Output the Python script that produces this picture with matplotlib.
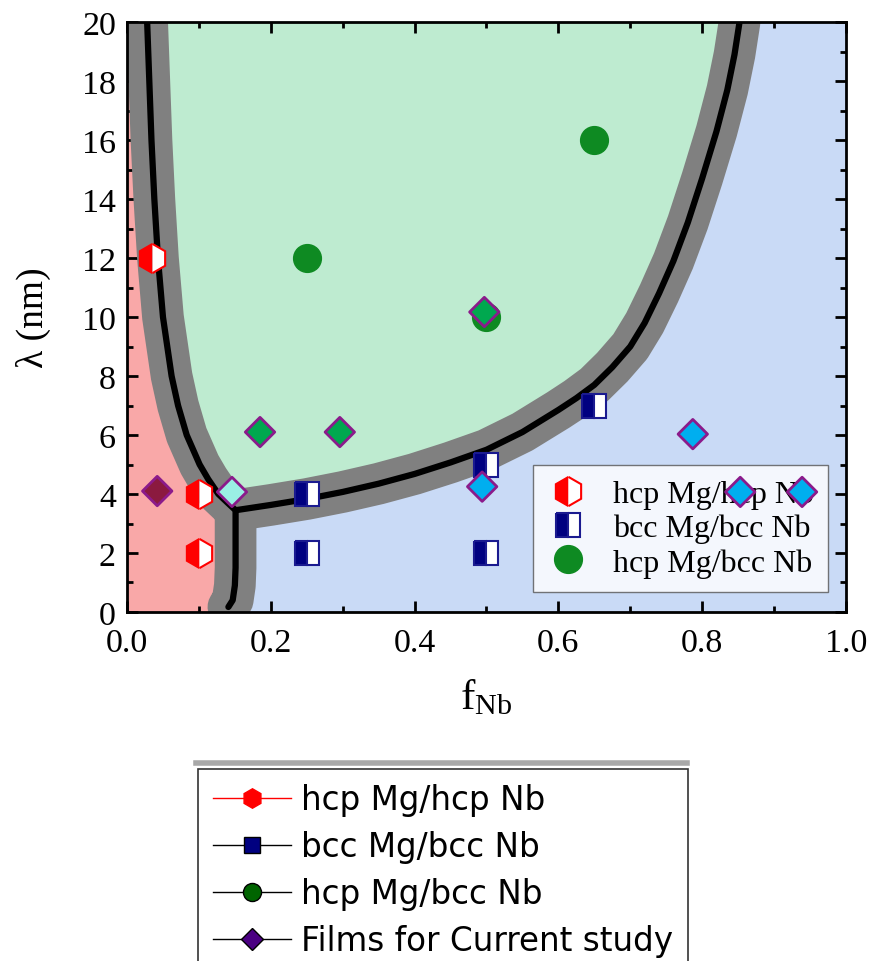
import numpy as np
import matplotlib.pyplot as plt
from matplotlib.lines import Line2D

plt.rcParams['font.family'] = 'Liberation Serif'
plt.rcParams['mathtext.fontset'] = 'custom'
plt.rcParams['mathtext.rm'] = 'Liberation Serif'
plt.rcParams['mathtext.it'] = 'Liberation Serif:italic'

# phase boundary: left branch (top -> triple point), stem down to f axis, right branch
left_x = [0.028, 0.031, 0.034, 0.038, 0.043, 0.050, 0.062, 0.071, 0.083, 0.101, 0.113, 0.127, 0.140, 0.151]
left_y = [20.0, 18.0, 16.0, 14.0, 12.0, 10.0, 8.0, 7.0, 6.0, 5.0, 4.5, 4.0, 3.7, 3.45]
stem_x = [0.151, 0.151, 0.151, 0.150, 0.147, 0.141]
stem_y = [3.45, 2.5, 1.5, 0.9, 0.4, 0.17]
right_x = [0.151, 0.20, 0.25, 0.30, 0.35, 0.40, 0.45, 0.50, 0.55, 0.60, 0.625, 0.65, 0.675,
           0.70, 0.72, 0.74, 0.76, 0.78, 0.80, 0.82, 0.835, 0.845, 0.852]
right_y = [3.45, 3.63, 3.83, 4.07, 4.35, 4.68, 5.07, 5.5, 6.1, 6.85, 7.25, 7.7, 8.3,
           9.0, 9.8, 10.8, 11.9, 13.2, 14.7, 16.3, 17.7, 18.9, 20.0]

# simulation results
hh_f = [0.035, 0.10, 0.10]
hh_lam = [12, 4, 2]
bb_f = [0.25, 0.25, 0.50, 0.50, 0.65]
bb_lam = [4, 2, 5, 2, 7]
hb_f = [0.25, 0.50, 0.65]
hb_lam = [12, 10, 16]

# deposited films
film_f = [0.042, 0.146, 0.185, 0.296, 0.497, 0.494, 0.787, 0.853, 0.939]
film_lam = [4.1, 4.07, 6.1, 6.1, 10.17, 4.25, 6.03, 4.07, 4.07]
film_col = ['#8B1A3F', '#9AF0E4', '#00A84F', '#00A84F', '#00A84F',
            '#00AEEF', '#00AEEF', '#00AEEF', '#00AEEF']

fig = plt.figure(figsize=(8.73, 9.62), dpi=100)
ax = fig.add_axes([0.1455, 0.3628, 0.8235, 0.6132])
ax.set_facecolor('#C9DAF6')

# shaded phase regions
red_x = [0, 0] + left_x + stem_x[1:] + [stem_x[-1]]
red_y = [0, 20] + left_y + stem_y[1:] + [0]
ax.fill(red_x, red_y, color='#F9A8A8', lw=0, zorder=1)
green_x = left_x + right_x[1:]
green_y = left_y + right_y[1:]
ax.fill(green_x, green_y, color='#BEEBD0', lw=0, zorder=1)

bx = left_x + stem_x[1:]
by = left_y + stem_y[1:]
for xs, ys in [(bx, by), (right_x, right_y)]:
    ax.plot(xs, ys, color='#808080', lw=30, solid_capstyle='round',
            solid_joinstyle='round', zorder=2)
for xs, ys in [(bx, by), (right_x, right_y)]:
    ax.plot(xs, ys, color='black', lw=4.5, solid_capstyle='round',
            solid_joinstyle='round', zorder=3)

l1, = ax.plot(hh_f, hh_lam, ls='none', marker='h', ms=21, fillstyle='left',
              markerfacecolor='red', markerfacecoloralt='white',
              markeredgecolor='red', mew=1.5, zorder=4)
l2, = ax.plot(bb_f, bb_lam, ls='none', marker='s', ms=17, fillstyle='left',
              markerfacecolor='#000080', markerfacecoloralt='white',
              markeredgecolor='#1a1a90', mew=1.5, zorder=4)
l3, = ax.plot(hb_f, hb_lam, ls='none', marker='o', ms=20,
              color='#0E8A22', mec='#0E8A22', zorder=4)
ax.scatter(film_f, film_lam, marker='D', s=15**2, c=film_col,
           edgecolors='#8B1A8B', linewidths=2, zorder=7)

ax.set_xlim(0, 1)
ax.set_ylim(0, 20)
ax.set_xticks(np.arange(0, 1.01, 0.2))
ax.set_xticks(np.arange(0, 1.01, 0.1), minor=True)
ax.set_yticks(np.arange(0, 21, 2))
ax.set_yticks(np.arange(0, 21, 1), minor=True)
ax.xaxis.set_major_formatter(plt.FormatStrFormatter('%.1f'))
ax.tick_params(which='both', direction='in', top=True, right=True,
               width=2, labelsize=24.5, pad=8)
ax.tick_params(axis='x', which='both', pad=11)
ax.tick_params(which='major', length=8)
ax.tick_params(which='minor', length=4.5)
for s in ax.spines.values():
    s.set_linewidth(2)
    s.set_zorder(8)

ax.set_xlabel(r'$\mathregular{f_{Nb}}$', fontsize=31, labelpad=14)
ax.set_ylabel('λ (nm)', fontsize=27, labelpad=22)

leg = ax.legend([l1, l2, l3], ['hcp Mg/hcp Nb', 'bcc Mg/bcc Nb', 'hcp Mg/bcc Nb'],
                loc='lower right', bbox_to_anchor=(0.975, 0.034), fontsize=23,
                frameon=True, fancybox=False, edgecolor='#555555',
                handlelength=1.3, handletextpad=0.75, borderpad=0.45,
                labelspacing=0.15, borderaxespad=0)
leg.get_frame().set_linewidth(1)
leg.set_zorder(5)

# key for all symbols below the plot
keys = [
    Line2D([], [], color='red', lw=1, marker='h', ms=14, mfc='red', mec='red'),
    Line2D([], [], color='black', lw=1, marker='s', ms=12, mfc='#000080', mec='black'),
    Line2D([], [], color='black', lw=1, marker='o', ms=13, mfc='#006400', mec='black'),
    Line2D([], [], color='black', lw=1, marker='D', ms=11, mfc='#4B0082', mec='black'),
]
key_labels = ['hcp Mg/hcp Nb', 'bcc Mg/bcc Nb', 'hcp Mg/bcc Nb', 'Films for Current study']
fleg = fig.legend(keys, key_labels, loc='upper left', bbox_to_anchor=(0.227, 0.2),
                  prop={'family': 'DejaVu Sans', 'size': 23.5}, frameon=True,
                  fancybox=False, edgecolor='black', handlelength=2.4,
                  handletextpad=0.3, borderpad=0.45, labelspacing=0.43,
                  borderaxespad=0)
fleg.get_frame().set_linewidth(1.2)
fig.add_artist(Line2D([0.225, 0.787], [0.206, 0.206], transform=fig.transFigure,
                      color='#A8A8A8', lw=4))

fig.savefig('out.png', dpi=100)
